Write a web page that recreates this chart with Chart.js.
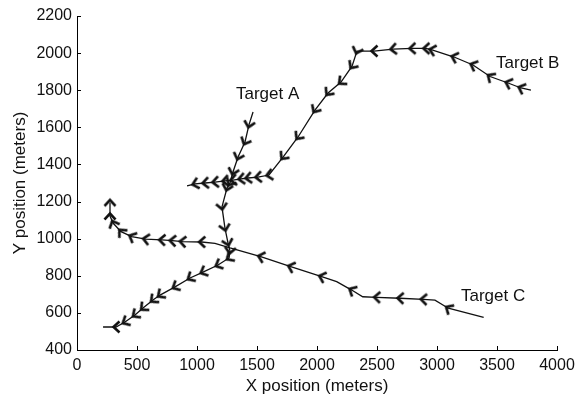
<!DOCTYPE html>
<html>
<head>
<meta charset="utf-8">
<script src="https://cdn.jsdelivr.net/npm/chart.js@4.4.1/dist/chart.umd.min.js"></script>
<style>
html,body{margin:0;padding:0;background:#fff;}
#wrap{width:585px;height:398px;}
</style>
</head>
<body>
<div id="wrap"><canvas id="c" width="585" height="398"></canvas></div>
<script>
// Track A (order of motion)
const trackAX = [1467,1433,1400,1342,1300,1275,1250,1208,1233,1258,1275,1267,1175,1050,942,817,692,633,550,483,400,325,217];
const trackAY = [1683,1613,1521,1440,1359,1300,1273,1171,1057,977,934,896,858,820,788,740,696,669,626,589,551,524,524];
const markA = [1,2,3,4,5,6,7,8,9,10,11,12,13,14,15,16,17,18,19,20,21];
// Track B
const trackBX = [3783,3700,3592,3442,3300,3142,2958,2908,2792,2633,2475,2333,2292,2200,2092,1983,1842,1717,1600,1508,1425,1367,1300,1233,1150,1067,983,917];
const trackBY = [1801,1812,1839,1874,1936,1979,2017,2025,2025,2022,2011,2011,1930,1844,1785,1693,1548,1440,1343,1332,1327,1322,1316,1311,1305,1300,1295,1284];
const markB = [1,2,3,4,5,6,7,8,9,10,11,12,13,14,15,16,17,18,19,20,21,22,23,24,25,26];
// Track C
const trackCX = [3389,3094,2983,2886,2692,2497,2381,2289,2164,2039,1781,1531,1275,1150,1039,878,794,706,572,456,367,302,275,275];
const trackCY = [576,625,669,673,679,684,687,723,768,795,849,903,950,975,982,984,989,993,998,1011,1038,1083,1122,1195];
const markC = [1,3,4,5,7,9,10,11,14,15,16,17,18,19,20,21,22,23];
// Labels
const labelText = ["Target A","Target B","Target C"];
const labelX = [1325,3492,3200];
const labelY = [1780,1947,691];
// Axis ticks
const xTicks = [0,500,1000,1500,2000,2500,3000,3500,4000];
const yTicks = [400,600,800,1000,1200,1400,1600,1800,2000,2200];

function pts(xs, ys){ return xs.map((x,i)=>({x:x,y:ys[i]})); }

// chevron marker, drawn pointing right (rotated per point)
const chev = document.createElement('canvas');
chev.width = 16; chev.height = 16;
(function(){
  const g = chev.getContext('2d');
  g.strokeStyle = '#111';
  g.lineWidth = 2.6;
  g.lineCap = 'butt';
  g.lineJoin = 'miter';
  g.beginPath();
  g.moveTo(4.5,2.5); g.lineTo(10.5,8); g.lineTo(4.5,13.5);
  g.stroke();
})();

function markerDataset(xs, ys, idx){
  const track = pts(xs, ys);
  return {
    data: idx.map(i=>track[i]),
    track: track,
    idxs: idx,
    showLine: false,
    pointStyle: chev,
    pointRadius: 6,
    pointHoverRadius: 6,
    rotation: function(ctx){
      if (ctx.type !== 'data') return 0;
      const ds = ctx.dataset, k = ds.idxs[ctx.dataIndex], t = ds.track;
      const sx = ctx.chart.scales.x, sy = ctx.chart.scales.y;
      let a, b;
      if (k + 1 < t.length) { a = t[k]; b = t[k+1]; } else { a = t[k-1]; b = t[k]; }
      const dx = sx.getPixelForValue(b.x) - sx.getPixelForValue(a.x);
      const dy = sy.getPixelForValue(b.y) - sy.getPixelForValue(a.y);
      return Math.atan2(dy, dx) * 180 / Math.PI;
    }
  };
}
function lineDataset(xs, ys){
  return {
    data: pts(xs, ys),
    showLine: true,
    borderColor: '#111',
    borderWidth: 1.3,
    pointRadius: 0,
    pointHoverRadius: 0,
    fill: false,
    tension: 0
  };
}

const innerTicks = {
  id: 'innerTicks',
  afterDraw(chart){
    const c = chart.ctx, sx = chart.scales.x, sy = chart.scales.y, a = chart.chartArea;
    c.save();
    c.strokeStyle = '#000'; c.lineWidth = 1;
    c.beginPath();
    xTicks.forEach(v=>{ const p = Math.round(sx.getPixelForValue(v))+0.5; c.moveTo(p, a.bottom); c.lineTo(p, a.bottom-4); });
    yTicks.forEach(v=>{ const p = Math.round(sy.getPixelForValue(v))+0.5; c.moveTo(a.left, p); c.lineTo(a.left+4, p); });
    c.stroke();
    c.fillStyle = '#111';
    c.font = '17px "Liberation Sans", Arial, sans-serif';
    c.textBaseline = 'middle'; c.textAlign = 'left';
    labelText.forEach((s,i)=>{ c.fillText(s, sx.getPixelForValue(labelX[i]), sy.getPixelForValue(labelY[i])); });
    c.restore();
  }
};

const tickFont = { family: '"Liberation Sans", Arial, sans-serif', size: 16 };
const titleFont = { family: '"Liberation Sans", Arial, sans-serif', size: 17 };

new Chart(document.getElementById('c'), {
  type: 'scatter',
  data: {
    datasets: [
      lineDataset(trackAX, trackAY),
      lineDataset(trackBX, trackBY),
      lineDataset(trackCX, trackCY),
      markerDataset(trackAX, trackAY, markA),
      markerDataset(trackBX, trackBY, markB),
      markerDataset(trackCX, trackCY, markC)
    ]
  },
  options: {
    responsive: false,
    animation: false,
    events: [],
    layout: { padding: { top: 16, right: 28, left: 0, bottom: 0 } },
    plugins: { legend: { display: false }, tooltip: { enabled: false } },
    scales: {
      x: {
        type: 'linear', min: 0, max: 4000,
        afterBuildTicks(s){ s.ticks = xTicks.map(v=>({value:v})); },
        afterFit(s){ s.height = 48; },
        grid: { display: false, drawTicks: false, tickLength: 0 },
        border: { display: true, color: '#000', width: 1 },
        ticks: { color: '#111', font: tickFont, padding: 6, maxRotation: 0, autoSkip: false, callback: v => String(v) },
        title: { display: true, text: 'X position (meters)', color: '#111', font: titleFont, padding: { top: 0, bottom: 1 } }
      },
      y: {
        type: 'linear', min: 400, max: 2200,
        afterBuildTicks(s){ s.ticks = yTicks.map(v=>({value:v})); },
        afterFit(s){ s.width = 77; },
        grid: { display: false, drawTicks: false, tickLength: 0 },
        border: { display: true, color: '#000', width: 1 },
        ticks: { color: '#111', font: tickFont, padding: 5, autoSkip: false, callback: v => String(v) },
        title: { display: true, text: 'Y position (meters)', color: '#111', font: titleFont, padding: { top: 10, bottom: 0 } }
      }
    }
  },
  plugins: [innerTicks]
});
</script>
</body>
</html>
